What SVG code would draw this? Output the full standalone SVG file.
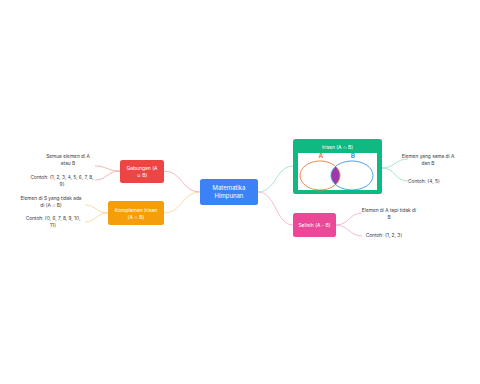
<svg xmlns="http://www.w3.org/2000/svg" width="480" height="384" viewBox="0 0 480 384">
<defs>
<style>
.leaf{font-family:Inter,"Open Sans",sans-serif;font-size:4.8px;fill:#3a3a3a;text-anchor:middle}
.nt{font-family:Inter,"Open Sans",sans-serif;font-size:5px;fill:#fff;text-anchor:middle}
.ct{font-family:Inter,"Open Sans",sans-serif;font-size:6px;fill:#fff;text-anchor:middle}
.c{fill:none;stroke-width:0.8}
</style>
<clipPath id="clipA"><ellipse cx="320" cy="175.5" rx="20" ry="14.5"/></clipPath>
</defs>
<rect width="480" height="384" fill="#fff"/>
<g id="connectors">
<path class="c" stroke="#f4a3a8" d="M200,192 C182,192 182,171 164,171"/>
<path class="c" stroke="#fbd08c" d="M200,192 C182,192 182,213 164,213"/>
<path class="c" stroke="#8fe0c2" d="M258,192 C276,192 276,166 293,166"/>
<path class="c" stroke="#f5a6cc" d="M258,192 C276,192 276,225 293,225"/>
<path class="c" stroke="#f4a3a8" d="M120,171 C107,171 107,166 95,166"/>
<path class="c" stroke="#f4a3a8" d="M120,171 C107,171 107,180 95,180"/>
<path class="c" stroke="#fbd08c" d="M108,213 C96,213 96,205 85,205"/>
<path class="c" stroke="#fbd08c" d="M108,213 C96,213 96,222 85,222"/>
<path class="c" stroke="#8fe0c2" d="M382,168 C395,168 395,159 408,159"/>
<path class="c" stroke="#8fe0c2" d="M382,168 C395,168 395,181 408,181"/>
<path class="c" stroke="#f5a6cc" d="M336,225 C349,225 349,213 362,213"/>
<path class="c" stroke="#f5a6cc" d="M336,225 C349,225 349,236 362,236"/>
</g>
<g id="center">
<rect x="200" y="179" width="58" height="26" rx="2.5" fill="#3b82f6"/>
<text class="ct" x="229" y="190">Matematika</text>
<text class="ct" x="229" y="198">Himpunan</text>
</g>
<g id="gabungan">
<rect x="120" y="160" width="44" height="23" rx="2.5" fill="#ef4444"/>
<text class="nt" x="142" y="170">Gabungan (A</text>
<text class="nt" x="142" y="177">∪ B)</text>
</g>
<g id="komplemen">
<rect x="108" y="201" width="56" height="24" rx="2.5" fill="#f59e0b"/>
<text class="nt" x="136" y="212">Komplemen Irisan</text>
<text class="nt" x="136" y="219">(A ∩ B)</text>
</g>
<g id="irisan">
<rect x="293" y="139" width="89" height="55" rx="2.5" fill="#10b981"/>
<text class="nt" x="337.5" y="149">Irisan (A ∩ B)</text>
<rect x="298" y="153" width="79" height="37" fill="#fff"/>
<ellipse cx="352" cy="175.5" rx="21" ry="14.5" fill="#9b3aa8" clip-path="url(#clipA)"/>
<ellipse cx="320" cy="175.5" rx="20" ry="14.5" fill="none" stroke="#f07d3a" stroke-width="0.9"/>
<ellipse cx="352" cy="175.5" rx="21" ry="14.5" fill="none" stroke="#3b96e0" stroke-width="0.9"/>
<text x="321" y="158" font-family="Inter,sans-serif" font-size="6.5" font-weight="bold" fill="#f07d3a" text-anchor="middle">A</text>
<text x="353" y="158" font-family="Inter,sans-serif" font-size="6.5" font-weight="bold" fill="#3b96e0" text-anchor="middle">B</text>
</g>
<g id="selisih">
<rect x="293" y="213" width="43" height="24" rx="2.5" fill="#ec4899"/>
<text class="nt" x="314.5" y="226.5">Selisih (A - B)</text>
</g>
<g id="leaf-gab1"><text class="leaf" x="68" y="158">Semua elemen di A</text><text class="leaf" x="68" y="165">atau B</text></g>
<g id="leaf-gab2"><text class="leaf" x="62" y="179">Contoh: {1, 2, 3, 4, 5, 6, 7, 8,</text><text class="leaf" x="62" y="186">9}</text></g>
<g id="leaf-kom1"><text class="leaf" x="51" y="200">Elemen di S yang tidak ada</text><text class="leaf" x="51" y="207">di (A ∩ B)</text></g>
<g id="leaf-kom2"><text class="leaf" x="53" y="220">Contoh: {0, 6, 7, 8, 9, 10,</text><text class="leaf" x="53" y="227">11}</text></g>
<g id="leaf-iri1"><text class="leaf" x="428" y="158">Elemen yang sama di A</text><text class="leaf" x="428" y="165">dan B</text></g>
<g id="leaf-iri2"><text class="leaf" x="424" y="183">Contoh: {4, 5}</text></g>
<g id="leaf-sel1"><text class="leaf" x="389" y="212">Elemen di A tapi tidak di</text><text class="leaf" x="389" y="219">B</text></g>
<g id="leaf-sel2"><text class="leaf" x="384" y="237">Contoh: {1, 2, 3}</text></g>
</svg>
